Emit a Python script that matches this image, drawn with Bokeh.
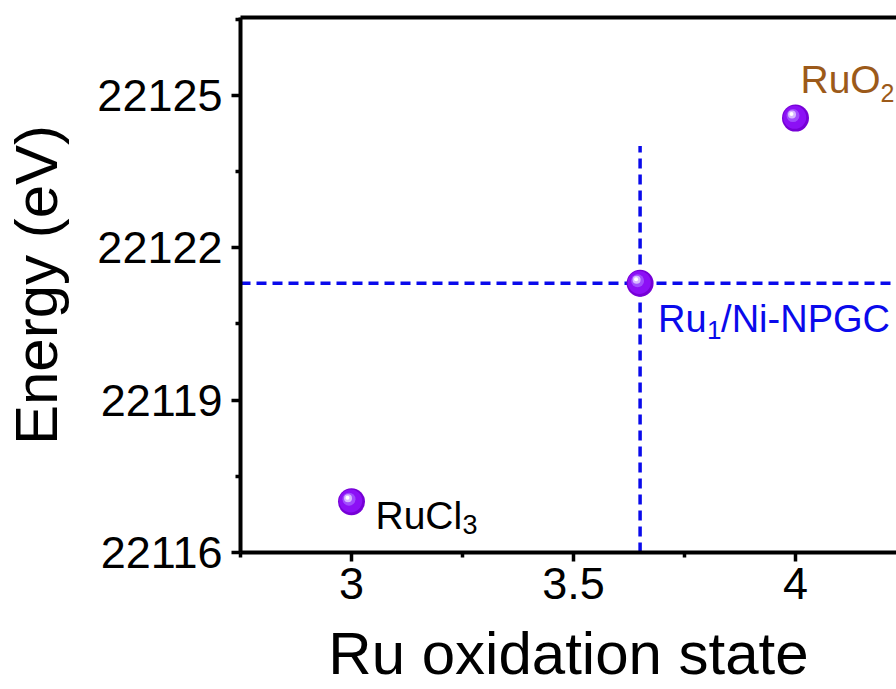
from bokeh.plotting import figure
from bokeh.models import Range1d, FixedTicker, LinearAxis, Label
from bokeh.embed import file_html
from bokeh.resources import INLINE

# Ru K-edge absorption energy against Ru oxidation state
sample_main = ["RuCl", "Ru", "RuO"]
sample_sub = ["3", "1", "2"]
sample_tail = ["", "/Ni-NPGC", ""]
oxidation_state = [3.0, 3.65, 4.0]
edge_energy = [22117.0, 22121.3, 22124.55]

x_ticks = [3, 3.5, 4]
x_tick_labels = ["3", "3.5", "4"]
x_minor_ticks = [2.75, 3.25, 3.75, 4.25]
y_ticks = [22116, 22119, 22122, 22125]
y_minor_ticks = [22117.5, 22120.5, 22123.5, 22126.5]

# reading lines for the Ru1/Ni-NPGC sample
guide_index = 1
guide_top = 22124.0

FONT = "Liberation Sans"
X0, X1 = 2.75, 4.2275
Y0, Y1 = 22116.0, 22126.53
W, H = 896, 689
LEFT, RIGHT, TOP, BOTTOM = 240, 0, 17, 136
FRAME_W = W - LEFT - RIGHT
FRAME_H = H - TOP - BOTTOM
DX = (X1 - X0) / FRAME_W   # data units per pixel
DY = (Y1 - Y0) / FRAME_H

p = figure(width=W, height=H, output_backend="svg", toolbar_location=None,
           x_range=Range1d(X0, X1), y_range=Range1d(Y0, Y1),
           min_border_left=LEFT, min_border_right=RIGHT,
           min_border_top=TOP, min_border_bottom=BOTTOM,
           x_axis_label="Ru oxidation state", y_axis_label="Energy (eV)")
p.outline_line_color = None
p.grid.visible = False
p.background_fill_color = "white"
p.border_fill_color = "white"

for ax in (p.xaxis[0], p.yaxis[0]):
    ax.axis_line_width = 4
    ax.axis_line_color = "black"
    ax.major_tick_line_width = 3.5
    ax.minor_tick_line_width = 3.5
    ax.major_tick_in = 0
    ax.major_tick_out = 9
    ax.minor_tick_in = 0
    ax.minor_tick_out = 5
    ax.major_label_text_font = FONT
    ax.major_label_text_font_size = "45px"
    ax.major_label_text_color = "black"
    ax.axis_label_text_font = FONT
    ax.axis_label_text_font_size = "60px"
    ax.axis_label_text_font_style = "normal"
    ax.axis_label_text_color = "black"

p.xaxis[0].ticker = FixedTicker(ticks=x_ticks, minor_ticks=x_minor_ticks)
p.xaxis[0].major_label_overrides = {t: s for t, s in zip(x_ticks, x_tick_labels)}
p.xaxis[0].major_label_standoff = 6
p.xaxis[0].axis_label_standoff = 18

p.yaxis[0].ticker = FixedTicker(ticks=y_ticks, minor_ticks=y_minor_ticks)
p.yaxis[0].major_label_overrides = {t: str(t) for t in y_ticks}
p.yaxis[0].major_label_standoff = 9
p.yaxis[0].axis_label_standoff = 24

# plain top border line
top_axis = LinearAxis(ticker=FixedTicker(ticks=[]), axis_line_width=4,
                      major_tick_line_color=None, minor_tick_line_color=None,
                      major_label_text_font_size="0px")
p.add_layout(top_axis, "above")

# dashed reading lines
gx = oxidation_state[guide_index]
gy = edge_energy[guide_index]
guide_color = "#0A0AEB"
p.line([gx, gx], [Y0, guide_top], line_color=guide_color, line_width=3.5, line_dash="10 6")
p.line([X0, X1], [gy, gy], line_color=guide_color, line_width=3.5, line_dash="10 6")

# shaded sphere markers
xs = oxidation_state
ys = edge_energy
p.scatter(xs, ys, size=27, fill_color="#7600D6", line_color=None)
p.scatter([x - 0.8 * DX for x in xs], [y + 0.8 * DY for y in ys], size=23,
          fill_color="#8C10F5", line_color=None)
p.scatter([x - 2.5 * DX for x in xs], [y + 2.5 * DY for y in ys], size=13,
          fill_color="#A65CFF", line_color=None, fill_alpha=0.8)
p.scatter([x - 3.5 * DX for x in xs], [y + 3.5 * DY for y in ys], size=8,
          fill_color="#DCC4FF", line_color=None, fill_alpha=0.9)
p.scatter([x - 4 * DX for x in xs], [y + 4 * DY for y in ys], size=4,
          fill_color="white", line_color=None)

# sample labels: (colour, main size, main offset, sub offset, sub size, tail offset)
label_style = [
    ("black",   39, (24, -14), (111, -23), 27, None),
    ("#0A0AEB", 38, (18, -36), (67, -47), 26, (81, -36)),
    ("#9C5A1A", 39, (5, 39),   (85, 25),  25, None),
]
for i, (col, msize, mo, so, ssize, to) in enumerate(label_style):
    x, y = xs[i], ys[i]
    p.add_layout(Label(x=x, y=y, x_offset=mo[0], y_offset=mo[1], text=sample_main[i],
                       text_font=FONT, text_font_size=f"{msize}px", text_color=col,
                       text_baseline="alphabetic"))
    p.add_layout(Label(x=x, y=y, x_offset=so[0], y_offset=so[1], text=sample_sub[i],
                       text_font=FONT, text_font_size=f"{ssize}px", text_color=col,
                       text_baseline="alphabetic"))
    if to is not None and sample_tail[i]:
        p.add_layout(Label(x=x, y=y, x_offset=to[0], y_offset=to[1], text=sample_tail[i],
                           text_font=FONT, text_font_size=f"{msize}px", text_color=col,
                           text_baseline="alphabetic"))

open("out.html", "w").write(file_html(p, INLINE))
